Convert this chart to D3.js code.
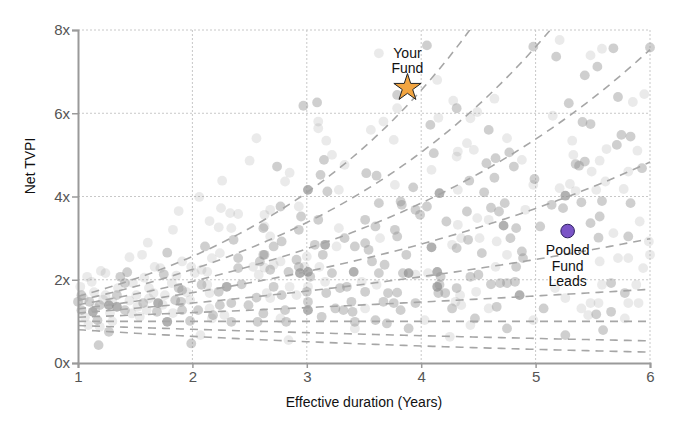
<!DOCTYPE html>
<html lang="en">
<head>
  <meta charset="UTF-8" />
  <title>Net TVPI vs Effective Duration</title>
  <script src="https://d3js.org/d3.v7.min.js"></script>
  <style>
    body { margin: 0; background: #fff; font-family: "Liberation Sans", Arial, sans-serif; }
  </style>
</head>
<body>
  <svg id="chart" width="680" height="424"></svg>

  <script>
    // Axis ticks
    const xTicks = [1, 2, 3, 4, 5, 6];
    const yTicks = [0, 2, 4, 6, 8];

    // IRR reference curves (TVPI = (1 + irr) ^ duration)
    const irrRates = [-0.2, -0.1, 0, 0.1, 0.2, 0.3, 0.4, 0.5, 0.6];

    // Highlighted funds
    const yourFund = { label: ["Your", "Fund"], duration: 3.88, tvpi: 6.61 };
    const pooledFund = { label: ["Pooled", "Fund", "Leads"], duration: 5.28, tvpi: 3.17 };

    // Peer funds: [duration, net TVPI, shade] (shade 0 light, 1 mid, 2 dark)
    const peers = [
      [2.56,5.40,0],[2.50,4.86,0],[2.26,4.38,0],[2.06,3.99,0],
      [3.63,7.44,0],[4.05,7.63,1],[3.79,6.44,1],[2.97,6.18,1],[3.09,6.26,1],[3.10,5.80,0],[3.10,5.64,0],[3.17,5.34,0],
      [3.56,5.60,0],[3.67,5.80,0],[3.79,6.12,0],[3.76,5.36,0],[4.08,5.72,1],[4.15,5.89,0],[4.31,6.12,1],[4.28,6.30,0],
      [4.14,6.80,0],[4.11,5.04,1],[4.09,4.64,0],[3.15,4.88,1],[3.22,5.00,0],[2.74,4.72,1],[2.85,4.57,0],[2.81,4.36,0],
      [3.12,4.52,1],[3.01,4.16,2],[3.18,4.12,1],[3.28,4.16,0],[3.33,4.76,0],[3.52,4.56,1],[3.61,4.50,1],[3.77,4.28,0],
      [3.93,4.22,1],[4.31,4.96,0],[4.16,4.08,2],[4.32,4.16,0],
      [4.98,7.60,1],[5.21,7.76,0],[5.18,7.36,1],[5.58,7.55,0],[5.68,7.56,1],[6.00,7.58,1],[5.48,7.39,0],[5.54,7.12,1],
      [5.43,6.91,1],[4.64,6.35,0],[5.29,6.24,1],[5.72,6.39,1],[5.85,6.27,0],[5.95,6.46,0],[4.43,5.88,0],[4.49,6.03,0],
      [5.15,5.94,0],[5.41,5.79,1],[5.48,5.74,1],[4.59,5.60,1],[4.75,5.40,0],[4.40,5.28,0],[4.32,5.08,0],[4.46,5.12,0],
      [4.77,5.06,1],[4.88,4.88,0],[4.65,4.92,1],[4.57,4.80,1],[4.81,4.72,1],[4.64,4.45,1],[4.42,4.38,1],[4.55,4.10,1],
      [4.99,4.42,1],[4.98,4.28,0],[5.32,5.34,0],[5.33,5.00,0],[5.35,4.78,1],[5.43,4.84,1],[5.38,4.74,1],[5.56,4.86,0],
      [5.71,5.24,1],[5.75,5.48,1],[5.83,5.44,1],[5.62,5.14,0],[5.89,5.10,0],[5.93,4.68,1],[5.81,4.60,0],[5.61,4.36,0],
      [5.49,4.60,0],[5.30,4.30,0],[5.21,4.20,0],[5.35,4.13,0],[5.26,4.02,2],[5.53,4.16,0],[5.77,4.18,0],
      [1.88,3.65,0],[1.83,3.20,0],[1.61,2.89,0],[1.78,2.65,1],[1.56,2.60,0],[1.45,2.54,0],[2.25,3.72,0],[2.33,3.60,0],
      [2.40,3.58,0],[2.15,3.41,0],[2.23,3.26,0],[2.34,3.24,0],[2.63,3.56,0],[2.62,3.24,1],[2.11,2.80,1],[2.36,2.96,1],
      [2.24,2.64,0],[2.40,2.52,1],[2.40,2.28,1],[2.17,2.52,0],[2.62,2.60,1],[2.59,2.44,1],[2.63,2.29,0],[2.53,2.31,0],
      [2.30,1.83,2],[2.43,1.89,1],[2.23,1.71,1],[2.13,1.88,0],[2.08,1.88,1],[2.34,1.44,1],[2.24,1.39,1],[2.49,1.39,1],
      [2.56,1.57,1],[2.65,1.68,0],[2.62,1.19,1],[2.57,0.99,1],[2.34,0.99,1],[2.18,1.15,1],[2.15,1.31,0],[2.05,1.27,1],
      [1.98,1.01,1],[1.99,0.47,1],[2.07,0.67,0],[1.98,1.51,0],[2.02,2.16,0],[2.08,2.24,0],[1.99,2.31,0],[1.91,2.44,0],
      [1.72,2.28,0],[1.75,2.13,1],[1.67,2.31,0],[1.43,2.18,1],[1.37,2.07,1],[1.24,2.16,0],[1.20,2.21,0],[1.12,1.95,0],
      [1.08,2.07,0],[1.02,1.83,0],[1.03,1.63,1],[1.00,1.47,1],[1.03,1.27,1],[1.10,1.47,1],[1.13,1.23,2],[1.19,1.39,1],
      [1.27,1.39,2],[1.24,1.63,0],[1.17,1.03,1],[1.27,0.75,1],[1.18,0.43,1],[1.19,0.87,0],[1.09,0.91,0],[1.34,1.63,1],
      [1.34,1.35,2],[1.41,1.27,1],[1.41,1.92,1],[1.48,1.92,0],[1.51,1.63,0],[1.57,1.44,1],[1.60,1.27,0],[1.47,1.19,0],
      [1.54,1.11,0],[1.70,1.44,2],[1.69,1.23,1],[1.76,1.63,0],[1.85,1.51,1],[1.91,1.75,1],[1.88,1.80,1],[1.90,1.47,1],
      [1.91,1.27,1],[1.78,0.99,2],[1.82,1.92,0],[1.66,1.68,0],[1.62,1.80,0],[1.35,1.80,0],[2.15,1.68,0],[2.13,2.19,0],
      [2.58,2.12,0],[2.68,2.24,1],[2.17,1.07,0],[2.28,1.15,0],
      [1.05,1.55,0],[1.14,1.70,0],[1.22,1.52,0],[1.30,1.48,0],[1.06,1.10,0],[1.15,1.32,0],[1.28,1.20,0],[1.45,1.50,0],
      [1.52,1.35,0],[1.62,1.55,0],[1.74,1.40,0],[1.83,1.20,0],[1.95,1.70,0],[1.30,1.00,0],[1.58,2.05,0],[1.86,2.10,0],
      [2.68,3.68,0],[2.77,3.76,1],[2.93,3.76,0],[2.95,3.52,1],[2.63,3.28,0],[2.68,3.04,0],[2.71,2.80,1],[2.78,2.92,1],
      [2.63,2.60,1],[2.71,2.36,0],[2.77,2.44,0],[2.84,2.19,1],[2.91,2.48,1],[2.93,2.31,1],[2.94,2.16,2],[3.00,2.56,0],
      [2.98,2.31,0],[3.01,2.19,2],[3.03,2.07,1],[2.93,3.20,1],[3.07,2.84,1],[3.16,2.84,2],[3.14,2.60,1],[3.10,3.44,1],
      [3.11,2.31,0],[3.22,2.16,1],[3.33,3.00,1],[3.26,2.80,0],[3.28,3.24,0],[3.41,2.19,2],[3.42,2.80,1],[3.51,3.44,1],
      [3.51,2.88,1],[3.54,2.72,1],[3.57,2.44,1],[3.63,3.84,1],[3.64,3.00,0],[3.60,3.28,1],[3.68,2.36,1],[3.63,2.16,1],
      [3.77,3.20,1],[3.79,3.04,1],[3.83,3.80,1],[3.82,3.88,1],[3.95,3.68,1],[3.99,3.56,1],[3.87,2.60,1],[3.89,2.16,2],
      [3.84,2.16,1],[3.95,2.12,0],[4.05,3.76,1],[4.09,2.78,2],[4.22,3.40,1],[4.32,3.32,0],[4.27,2.84,0],[4.31,2.76,1],
      [4.14,2.19,2],[4.17,2.07,1],[4.06,2.16,0],[4.16,1.88,1],[4.21,1.68,1],[4.15,1.68,1],[4.27,1.31,1],[4.31,1.80,1],
      [4.30,1.47,0],[2.71,1.83,1],[2.85,1.83,0],[2.78,1.63,1],[2.91,1.63,0],[3.00,1.71,1],[3.01,1.83,0],[3.16,1.95,0],
      [3.17,1.68,1],[3.29,1.80,1],[3.35,1.83,1],[3.48,1.95,0],[3.51,1.71,1],[3.61,1.88,0],[3.71,1.68,1],[3.79,1.69,1],
      [3.01,1.27,2],[3.01,1.47,1],[3.13,1.11,1],[3.25,1.31,1],[3.32,1.27,1],[3.39,1.47,1],[3.40,1.23,1],[3.42,0.99,1],
      [3.51,1.31,0],[3.60,1.03,1],[3.67,1.47,1],[3.70,0.95,1],[3.76,1.44,1],[3.82,1.27,1],[3.89,0.83,1],[3.95,1.44,1],
      [2.81,1.27,1],[2.82,0.99,1],[2.77,1.07,0],[2.68,1.56,0],[2.84,0.55,0],[3.42,0.83,0],[4.14,1.83,2],[4.25,0.63,0],
      [4.03,1.03,0],
      [4.40,3.64,1],[4.49,3.48,0],[4.61,3.73,1],[4.68,3.64,1],[4.73,3.84,1],[4.91,3.68,0],[4.72,3.30,2],[4.83,3.24,1],
      [4.59,3.44,0],[4.35,3.00,0],[4.51,3.00,0],[4.41,2.96,1],[4.66,2.92,0],[4.78,3.00,1],[4.88,2.68,1],[4.89,2.52,1],
      [4.83,2.31,1],[4.75,2.60,0],[4.53,2.64,1],[4.65,2.31,0],[4.43,2.07,1],[4.50,2.12,1],[4.61,1.89,1],[4.69,1.92,1],
      [4.75,1.92,1],[4.82,1.95,1],[4.86,1.63,2],[4.48,1.71,0],[4.34,1.63,0],[4.35,1.39,0],[4.66,1.35,1],[4.47,1.07,1],
      [4.43,0.91,0],[4.75,0.83,1],[4.59,1.31,0],[5.04,3.28,1],[5.14,3.80,1],[5.24,3.72,1],[5.40,3.86,1],[5.58,3.89,1],
      [5.83,3.84,1],[5.56,3.52,1],[5.48,3.36,1],[5.55,3.01,1],[5.68,3.12,0],[5.81,3.04,1],[5.91,3.40,0],[5.99,2.92,0],
      [6.00,2.60,0],[5.94,2.28,0],[5.81,2.52,0],[5.72,2.52,0],[5.56,2.44,0],[5.66,1.92,1],[5.58,1.88,0],[5.78,1.68,1],
      [5.81,1.44,0],[5.90,1.44,0],[5.55,1.44,0],[5.48,1.44,0],[5.66,1.23,1],[5.53,1.17,1],[5.46,1.15,0],[5.40,1.31,0],
      [5.26,1.56,0],[5.17,1.80,0],[5.07,1.31,1],[4.98,1.03,0],[5.26,0.67,1],[5.59,0.79,1],[5.78,1.07,0],[5.88,1.88,0]
    ];
    const shadeOpacity = [0.18, 0.42, 0.68];

    const svg = d3.select("#chart"),
          margin = {top: 30, right: 30, bottom: 61, left: 78},
          width = +svg.attr("width") - margin.left - margin.right,
          height = +svg.attr("height") - margin.top - margin.bottom;

    const chart = svg.append("g")
        .attr("transform", `translate(${margin.left},${margin.top})`);

    const x = d3.scaleLinear().domain([1, 6]).range([0, width]);
    const y = d3.scaleLinear().domain([0, 8]).range([height, 0]);

    chart.append("clipPath").attr("id", "plot-clip")
      .append("rect").attr("width", width).attr("height", height);

    // Dotted grid
    chart.append("g")
      .selectAll("line")
      .data(xTicks.slice(1))
      .enter().append("line")
        .attr("x1", d => x(d)).attr("x2", d => x(d))
        .attr("y1", 0).attr("y2", height)
        .attr("stroke", "#c8c8c8").attr("stroke-dasharray", "2,2");
    chart.append("g")
      .selectAll("line")
      .data(yTicks.slice(1))
      .enter().append("line")
        .attr("x1", 0).attr("x2", width)
        .attr("y1", d => y(d)).attr("y2", d => y(d))
        .attr("stroke", "#c8c8c8").attr("stroke-dasharray", "2,2");

    // Peer funds
    chart.append("g")
      .selectAll("circle")
      .data(peers)
      .enter().append("circle")
        .attr("cx", d => x(d[0]))
        .attr("cy", d => y(d[1]))
        .attr("r", 4.9)
        .attr("fill", "#8c8c8c")
        .attr("fill-opacity", d => shadeOpacity[d[2]]);

    // IRR curves
    const durations = d3.range(1, 6.001, 0.05);
    const curve = d3.line().x(d => x(d[0])).y(d => y(d[1]));
    chart.append("g")
      .attr("clip-path", "url(#plot-clip)")
      .selectAll("path")
      .data(irrRates)
      .enter().append("path")
        .attr("d", r => curve(durations.map(t => [t, Math.pow(1 + r, t)])))
        .attr("fill", "none")
        .attr("stroke", "#a6a6a6")
        .attr("stroke-width", 1.6)
        .attr("stroke-dasharray", "8,6");

    // Axes
    const yAxis = chart.append("g")
        .call(d3.axisLeft(y).tickValues(yTicks).tickFormat(d => d + "x").tickSize(6).tickPadding(2));
    const xAxis = chart.append("g")
        .attr("transform", `translate(0,${height})`)
        .call(d3.axisBottom(x).tickValues(xTicks).tickFormat(d3.format("d")).tickSize(5).tickPadding(3));
    [yAxis, xAxis].forEach(ax => {
      ax.select(".domain").attr("stroke", "#9a9a9a").attr("stroke-width", 2);
      ax.selectAll(".tick line").attr("stroke", "#9a9a9a").attr("stroke-width", 1.5);
      ax.selectAll("text")
        .attr("fill", "#555")
        .style("font-size", "15px")
        .style("font-family", "'Liberation Sans', Arial, sans-serif");
    });

    // Your fund (star)
    chart.append("path")
      .attr("d", d3.symbol().type(d3.symbolStar).size(230)())
      .attr("transform", `translate(${x(yourFund.duration)},${y(yourFund.tvpi)})`)
      .attr("fill", "#f2a541")
      .attr("stroke", "#222")
      .attr("stroke-width", 1);
    chart.append("text")
      .attr("x", x(yourFund.duration))
      .attr("y", y(yourFund.tvpi) - 30)
      .attr("text-anchor", "middle")
      .style("font-size", "14px")
      .attr("fill", "#111")
      .selectAll("tspan")
      .data(yourFund.label)
      .enter().append("tspan")
        .attr("x", x(yourFund.duration))
        .attr("dy", (d, i) => i === 0 ? 0 : 15.5)
        .text(d => d);

    // Pooled fund leads (purple dot)
    chart.append("circle")
      .attr("cx", x(pooledFund.duration))
      .attr("cy", y(pooledFund.tvpi))
      .attr("r", 6.8)
      .attr("fill", "#7b55c7")
      .attr("stroke", "#2d2060")
      .attr("stroke-width", 1);
    chart.append("text")
      .attr("x", x(pooledFund.duration))
      .attr("y", y(pooledFund.tvpi) + 24)
      .attr("text-anchor", "middle")
      .style("font-size", "14px")
      .attr("fill", "#111")
      .selectAll("tspan")
      .data(pooledFund.label)
      .enter().append("tspan")
        .attr("x", x(pooledFund.duration))
        .attr("dy", (d, i) => i === 0 ? 0 : 15.5)
        .text(d => d);

    // Axis titles
    svg.append("text")
      .attr("transform", "rotate(-90)")
      .attr("x", -166)
      .attr("y", 35)
      .attr("text-anchor", "middle")
      .style("font-size", "14px")
      .attr("fill", "#111")
      .text("Net TVPI");

    svg.append("text")
      .attr("x", margin.left + width / 2)
      .attr("y", 407)
      .attr("text-anchor", "middle")
      .style("font-size", "14px")
      .attr("fill", "#111")
      .text("Effective duration (Years)");
  </script>
</body>
</html>
